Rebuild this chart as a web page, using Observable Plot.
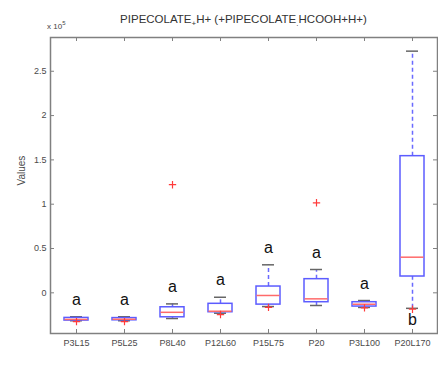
<!DOCTYPE html>
<html>
<head>
<meta charset="utf-8">
<script src="https://cdn.jsdelivr.net/npm/d3@7"></script>
<script src="https://cdn.jsdelivr.net/npm/@observablehq/plot@0.6"></script>
<style>
  html, body { margin: 0; padding: 0; background: #fff; }
  #wrap { width: 438px; font-family: "Liberation Sans", Arial, sans-serif; }
  #head { position: relative; height: 30px; }
  #title { position: absolute; left: 50px; width: 387px; top: 13px; text-align: center; font-size: 11.5px; line-height: 13px; color: #333; white-space: nowrap; }
  #title sub { font-size: 8px; vertical-align: -3px; line-height: 0; }
  #exp { position: absolute; left: 47px; top: 22px; font-size: 8px; line-height: 9px; color: #444; }
  #exp sup { font-size: 6px; vertical-align: 4px; line-height: 0; }
</style>
</head>
<body>
<div id="wrap">
  <div id="head">
    <div id="title">PIPECOLATE<sub>+</sub>H+ (+PIPECOLATE<sub>.</sub>HCOOH+H+)</div>
    <div id="exp">x 10<sup>5</sup></div>
  </div>
  <div id="chart"></div>
</div>
<script>
const categories = ["P3L15","P5L25","P8L40","P12L60","P15L75","P20","P3L100","P20L170"];
const lowWhisker  = [-31500, -31500, -29000, -23000, -15500, -14300, -16500, -17500];
const q1          = [-31300, -31000, -27600, -21900, -13300, -10600, -15500,  18400];
const median      = [-30000, -29800, -22000, -20800,  -3000,  -6800, -12900,  40200];
const q3          = [-28300, -28500, -16300, -12400,   7100,  15400, -10600, 154200];
const highWhisker = [-27000, -27000, -12500,  -5000,  31600,  26300,  -8700, 272700];
const outlierCat  = ["P3L15","P5L25","P8L40","P12L60","P15L75","P20","P3L100","P20L170"];
const outlierVal  = [-32500, -32500, 122000, -24500, -16500, 101600, -17000, -18500];
const letters     = ["a","a","a","a","a","a","a","b"];
const yTicks      = [0, 50000, 100000, 150000, 200000, 250000];

const rows = categories.map((c, i) => ({
  cat: c, lo: lowWhisker[i], q1: q1[i], med: median[i], q3: q3[i], hi: highWhisker[i], letter: letters[i]
}));
const outliers = outlierCat.map((c, i) => ({cat: c, v: outlierVal[i]}));

const axisColor = "#808080";
const labelColor = "#4a4a4a";

const chart = Plot.plot({
  width: 438,
  height: 336,
  marginTop: 7,
  marginBottom: 33,
  marginLeft: 50,
  marginRight: 1,
  style: {fontFamily: "'Liberation Sans', Arial, sans-serif", background: "#fff"},
  x: {type: "band", domain: categories, paddingInner: 0, paddingOuter: 0, label: null},
  y: {domain: [-45900, 288100], label: null},
  marks: [
    Plot.frame({stroke: axisColor, strokeWidth: 1.5}),
    Plot.tickY(yTicks, {y: d => d, insetRight: 383, stroke: axisColor}),
    Plot.tickY(yTicks, {y: d => d, insetLeft: 383, stroke: axisColor}),
    Plot.tickX(categories, {x: d => d, insetBottom: 292, stroke: axisColor}),
    Plot.tickX(categories, {x: d => d, insetTop: 292, stroke: axisColor}),
    Plot.axisY({ticks: yTicks, tickFormat: d => String(d / 1e5), tickSize: 0, tickPadding: 4, fontSize: 9, color: labelColor, label: null}),
    Plot.axisX({tickSize: 0, tickPadding: 6, fontSize: 9, color: labelColor, label: null}),
    Plot.text(["Values"], {text: d => d, frameAnchor: "left", dx: -29, rotate: -90, fontSize: 10, fill: labelColor}),
    Plot.ruleX(rows, {x: "cat", y1: "q3", y2: "hi", stroke: "#6a6aff", strokeWidth: 1.5, strokeDasharray: "4,3"}),
    Plot.ruleX(rows, {x: "cat", y1: "lo", y2: "q1", stroke: "#6a6aff", strokeWidth: 1.5, strokeDasharray: "4,3"}),
    Plot.tickY(rows, {x: "cat", y: "hi", insetLeft: 18, insetRight: 18, stroke: "#666", strokeWidth: 1.5}),
    Plot.tickY(rows, {x: "cat", y: "lo", insetLeft: 18, insetRight: 18, stroke: "#666", strokeWidth: 1.5}),
    Plot.rectY(rows, {x: "cat", y1: "q1", y2: "q3", insetLeft: 12, insetRight: 12, fill: "none", stroke: "#5c5cff", strokeWidth: 1.5}),
    Plot.tickY(rows, {x: "cat", y: "med", insetLeft: 12.5, insetRight: 12.5, stroke: "#ff6a6a", strokeWidth: 1.5}),
    Plot.dot(outliers, {x: "cat", y: "v", symbol: "plus", r: 2.5, stroke: "#ff3b3b", strokeWidth: 1.2}),
    Plot.text(rows.filter(d => d.letter === "a"), {x: "cat", y: "hi", text: "letter", dy: -17, fontSize: 16, fill: "#111"}),
    Plot.text(rows.filter(d => d.letter === "b"), {x: "cat", y: "lo", text: "letter", dy: 12, fontSize: 16, fill: "#111"})
  ]
});
document.getElementById("chart").appendChild(chart);
</script>
</body>
</html>
